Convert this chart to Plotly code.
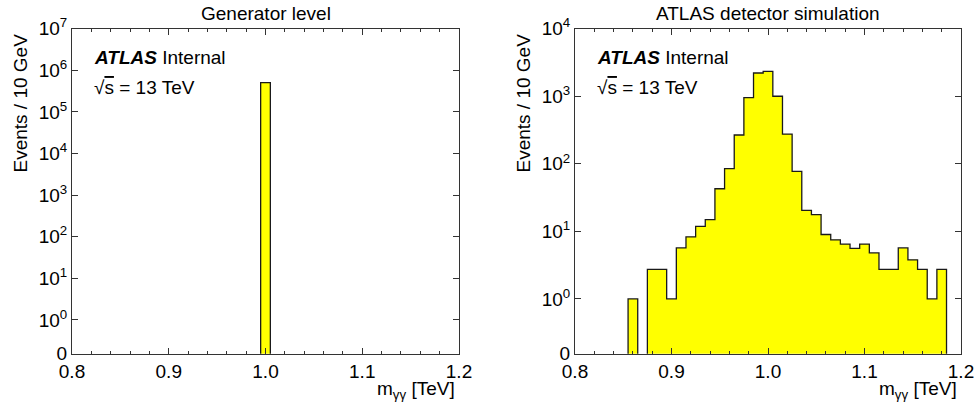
import plotly.graph_objects as go

# ---------------- data ----------------
bin_width = 0.01  # TeV (10 GeV bins)

gen_centers = [1.00]
gen_counts = [5.07e5]

sim_centers = [0.86, 0.87, 0.88, 0.89, 0.90, 0.91, 0.92, 0.93, 0.94, 0.95,
               0.96, 0.97, 0.98, 0.99, 1.00, 1.01, 1.02, 1.03, 1.04, 1.05,
               1.06, 1.07, 1.08, 1.09, 1.10, 1.11, 1.12, 1.13, 1.14, 1.15,
               1.16, 1.17, 1.18]
sim_counts = [1.0, 0.0, 2.75, 2.75, 1.0, 5.7, 8.3, 11.9, 14.9, 42.8,
              85.0, 267.0, 957.0, 2210.0, 2340.0, 1000.0, 276.0, 77.4, 20.5, 17.7,
              9.0, 7.5, 6.5, 5.6, 6.5, 4.8, 2.75, 2.75, 5.7, 3.8,
              2.75, 1.0, 2.75]

x_ticks = [0.8, 0.9, 1.0, 1.1, 1.2]
x_ticktext = ["0.8", "0.9", "1.0", "1.1", "1.2"]

panel_titles = ["Generator level", "ATLAS detector simulation"]
y_top_decade = [7, 4]
y_bottom_log = -0.81
zero_floor = 1e-3  # zero-count bins drawn below the visible log range

FONT = "Liberation Sans, Arial, Helvetica, sans-serif"
FS = 19
LINE = "#333333"


def step_xy(centers, counts):
    xs, ys = [], []
    first_edge = centers[0] - bin_width / 2
    xs.append(first_edge)
    ys.append(zero_floor)
    for c, v in zip(centers, counts):
        xs.append(c - bin_width / 2)
        ys.append(v if v > 0 else zero_floor)
    last_edge = centers[-1] + bin_width / 2
    xs.append(last_edge)
    ys.append(counts[-1] if counts[-1] > 0 else zero_floor)
    xs.append(last_edge)
    ys.append(zero_floor)
    return xs, ys


fig = go.Figure()

datasets = [(gen_centers, gen_counts), (sim_centers, sim_counts)]
for i, (cen, cnt) in enumerate(datasets):
    xs, ys = step_xy(cen, cnt)
    fig.add_trace(go.Scatter(
        x=xs, y=ys, mode="lines", line=dict(shape="hv", color="#1a1a1a", width=1.3),
        fill="tozeroy", fillcolor="#ffff00",
        xaxis="x" if i == 0 else "x2", yaxis="y" if i == 0 else "y2",
        showlegend=False, hoverinfo="skip",
    ))

# layout geometry (pixels in a 975x406 page)
W, H = 975, 406
plot_px = [(72, 459), (575, 961)]
top_px, bot_px = 28.7, 353.7

layout = dict(
    width=W, height=H, margin=dict(l=0, r=0, t=0, b=0, pad=0, autoexpand=False),
    paper_bgcolor="white", plot_bgcolor="white",
    font=dict(family=FONT, size=FS, color="black"),
    showlegend=False,
)

annotations = []
for i in range(2):
    xk = "xaxis" if i == 0 else "xaxis2"
    yk = "yaxis" if i == 0 else "yaxis2"
    x0, x1 = plot_px[i]
    layout[xk] = dict(
        domain=[x0 / W, x1 / W], range=[0.8, 1.2],
        anchor="y" if i == 0 else "y2", automargin=False,
        tickmode="array", tickvals=x_ticks, ticktext=x_ticktext,
        ticks="inside", ticklen=6, tickwidth=1, tickcolor=LINE,
        minor=dict(dtick=0.02, ticks="inside", ticklen=3, tickwidth=1, tickcolor=LINE),
        showline=True, linecolor=LINE, linewidth=1, mirror="allticks",
        showgrid=False, zeroline=False,
        tickfont=dict(family=FONT, size=FS, color="black"),
    )
    top = y_top_decade[i]
    yvals = [10 ** (y_bottom_log + 0.002)] + [10 ** k for k in range(0, top + 1)]
    ytext = ["0"] + ["10<sup>%d</sup>" % k for k in range(0, top + 1)]
    layout[yk] = dict(
        domain=[1 - bot_px / H, 1 - top_px / H], type="log",
        range=[y_bottom_log, top],
        anchor="x" if i == 0 else "x2", automargin=False,
        tickmode="array", tickvals=yvals, ticktext=ytext,
        ticks="inside", ticklen=6, tickwidth=1, tickcolor=LINE,
        showline=True, linecolor=LINE, linewidth=1, mirror="allticks",
        showgrid=False, zeroline=False,
        tickfont=dict(family=FONT, size=FS, color="black"),
    )
    xc = (x0 + x1) / 2
    # panel title
    annotations.append(dict(text=panel_titles[i], x=xc / W, y=1 - 13 / H,
                            xref="paper", yref="paper", xanchor="center", yanchor="middle",
                            showarrow=False, font=dict(size=FS)))
    # x-axis title
    annotations.append(dict(text="m<sub>γγ</sub> [TeV]", x=(x1 - 2) / W, y=1 - 390 / H,
                            xref="paper", yref="paper", xanchor="right", yanchor="middle",
                            showarrow=False, font=dict(size=FS)))
    # y-axis title
    annotations.append(dict(text="Events / 10 GeV", x=(x0 - 52) / W, y=1 - 32 / H,
                            xref="paper", yref="paper", xanchor="center", yanchor="top",
                            textangle=-90, showarrow=False, font=dict(size=FS)))
    # ATLAS label
    annotations.append(dict(text="<b><i>ATLAS</i></b> Internal", x=(x0 + 20) / W, y=1 - 58 / H,
                            xref="paper", yref="paper", xanchor="left", yanchor="middle",
                            showarrow=False, font=dict(size=FS)))
    annotations.append(dict(text="√<span style='text-decoration:overline'>s</span> = 13 TeV",
                            x=(x0 + 20) / W, y=1 - 87 / H,
                            xref="paper", yref="paper", xanchor="left", yanchor="middle",
                            showarrow=False, font=dict(size=FS)))

layout["annotations"] = annotations
fig.update_layout(**layout)
fig.write_html("out.html")
